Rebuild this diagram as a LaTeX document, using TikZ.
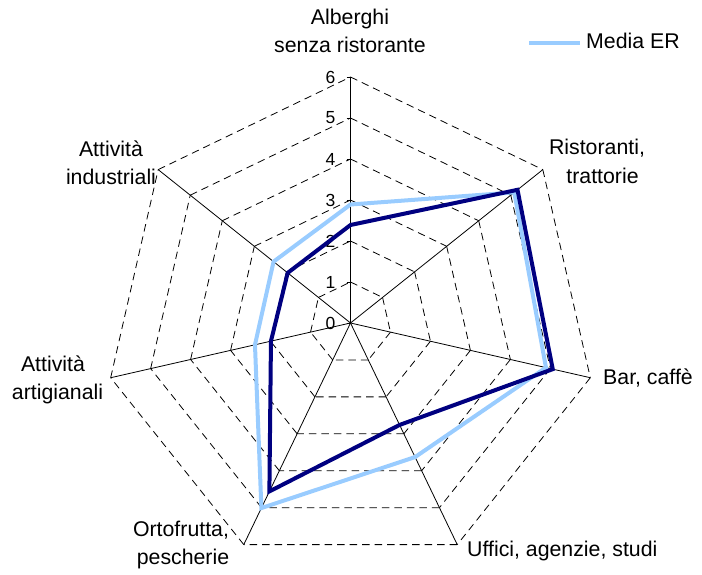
\documentclass[tikz,border=0pt]{standalone}
\usepackage{fontspec}
\setmainfont{Liberation Sans}
\usetikzlibrary{calc}
\definecolor{navyline}{RGB}{0,0,128}
\definecolor{erblue}{RGB}{153,204,255}
\begin{document}
\begin{tikzpicture}[x=1pt,y=1pt,
  lab/.style={font=\fontsize{21.3}{24}\selectfont, inner sep=0pt, anchor=base},
  ticklab/.style={font=\fontsize{17.5}{20}\selectfont, anchor=east, inner sep=0pt},
  gridline/.style={draw=black, line width=0.8pt, dash pattern=on 7.5pt off 5pt},
  axisline/.style={draw=black, line width=0.8pt},
  localline/.style={draw=navyline, line width=4pt, line join=miter},
  medialine/.style={draw=erblue, line width=4pt, line join=miter}]
\useasboundingbox (0,0) rectangle (702,575);
\coordinate (C) at (350.5,252);
% grid heptagons
\foreach \L in {1,...,6} {
  \foreach \k in {0,...,6} {
    \pgfmathsetmacro\aa{90-360/7*\k}
    \pgfmathsetmacro\ab{90-360/7*(\k+1)}
    \draw[gridline] ($(C)+(\aa:{\L*41})$) -- ($(C)+(\ab:{\L*41})$);
  }
}
% axes
\foreach \k in {0,...,6} {
  \pgfmathsetmacro\aa{90-360/7*\k}
  \coordinate (A\k) at ($(C)+(\aa:246)$);
  \draw[axisline] (C) -- (A\k);
}
% ticks and tick labels
\foreach \L in {0,...,6} {
  \coordinate (T\L) at ($(C)+(0,{\L*41})$);
  \draw[axisline] ($(T\L)+(-4,0)$) -- (T\L);
  \node[ticklab] (tl\L) at ($(T\L)+(-15,0)$) {\L};
}
% data
\foreach \v [count=\i from 0] in {2.89,5.11,4.89,3.63,5.01,2.39,2.40} {
  \coordinate (M\i) at ($(C)+({90-360/7*\i}:{\v*41})$);
}
\foreach \v [count=\i from 0] in {2.39,5.21,5.06,2.76,4.56,1.99,1.96} {
  \coordinate (D\i) at ($(C)+({90-360/7*\i}:{\v*41})$);
}
\draw[medialine] (M0) -- (M1) -- (M2) -- (M3) -- (M4) -- (M5) -- (M6) -- cycle;
\draw[localline] (D0) -- (D1) -- (D2) -- (D3) -- (D4) -- (D5) -- (D6) -- cycle;
% category labels
\node[lab] (alb1) at (350,550) {Alberghi};
\node[lab] (alb2) at (350,522) {senza ristorante};
\node[lab] (ris1) at (597,420) {Ristoranti,};
\node[lab] (ris2) at (602.5,391) {trattorie};
\node[lab, anchor=base west] (bar) at (603,190) {Bar, caffè};
\node[lab, anchor=base west] (uff) at (467,18.3) {Uffici, agenzie, studi};
\node[lab] (ort1) at (181,38.3) {Ortofrutta,};
\node[lab] (ort2) at (183,10) {pescherie};
\node[lab] (art1) at (53,203.3) {Attività};
\node[lab] (art2) at (57.5,175) {artigianali};
\node[lab] (ind1) at (111,418) {Attività};
\node[lab] (ind2) at (111,390) {industriali};
% legend
\coordinate (lg1) at (529,532.3);
\coordinate (lg2) at (580,532.3);
\draw[medialine] (lg1) -- (lg2);
\node[lab, anchor=base west] (lgt) at (586,526) {Media ER};
\end{tikzpicture}
\end{document}
